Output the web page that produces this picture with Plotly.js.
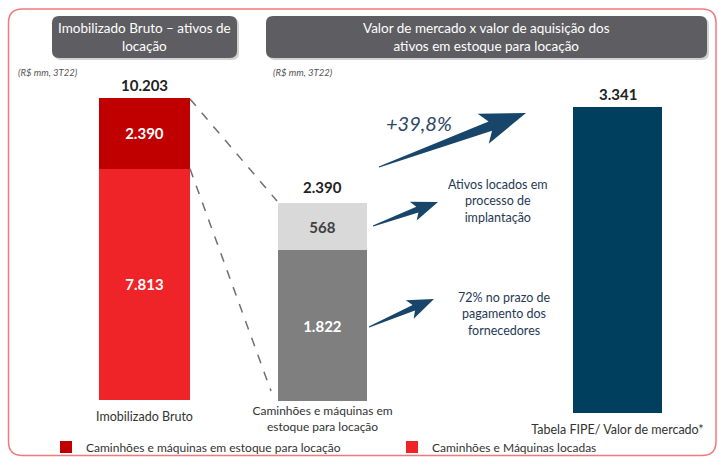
<!DOCTYPE html>
<html>
<head>
<meta charset="utf-8">
<script src="https://cdn.plot.ly/plotly-3.0.1.min.js"></script>
<style>
  html, body { margin: 0; padding: 0; background: white; }
  #plotDiv { width: 718px; height: 457px; }
</style>
</head>
<body>
<div id="plotDiv"></div>
<script>
// chart values
const leftCategory = ['Imobilizado Bruto'];
const locadas = [7813];           // Caminhões e Máquinas locadas
const estoque = [2390];           // Caminhões e máquinas em estoque para locação
const midCategory = ['Caminhões e máquinas em<br>estoque para locação'];
const prazoFornecedores = [1822];
const emImplantacao = [568];
const rightCategory = ['Tabela FIPE/ Valor de mercado*'];
const valorMercado = [3341];
const variacao = '+39,8%';
const notaImplantacao = 'Ativos locados em<br>processo de<br>implantação';
const notaPrazo = '72% no prazo de<br>pagamento dos<br>fornecedores';
const titleLeft = 'Imobilizado Bruto – ativos de<br>locação';
const titleRight = 'Valor de mercado x valor de aquisição dos<br>ativos em estoque para locação';
const unidade = '(R$ mm, 3T22)';

const W = 718, H = 457;
const px = x => x / W;
const py = y => 1 - y / H;
const FONT = 'Lato, "Open Sans", sans-serif';

function fmt(n) {
    return String(n).replace(/\B(?=(\d{3})+(?!\d))/g, '.');
}

// rounded rectangle, pixel coords -> paper path
function rr(x0, y0, x1, y1, r) {
    const X = px, Y = py;
    return 'M' + X(x0 + r) + ',' + Y(y0) +
        ' L' + X(x1 - r) + ',' + Y(y0) +
        ' Q' + X(x1) + ',' + Y(y0) + ' ' + X(x1) + ',' + Y(y0 + r) +
        ' L' + X(x1) + ',' + Y(y1 - r) +
        ' Q' + X(x1) + ',' + Y(y1) + ' ' + X(x1 - r) + ',' + Y(y1) +
        ' L' + X(x0 + r) + ',' + Y(y1) +
        ' Q' + X(x0) + ',' + Y(y1) + ' ' + X(x0) + ',' + Y(y1 - r) +
        ' L' + X(x0) + ',' + Y(y0 + r) +
        ' Q' + X(x0) + ',' + Y(y0) + ' ' + X(x0 + r) + ',' + Y(y0) + ' Z';
}

// tapered arrow, pixel coords -> paper path
function arrow(x0, y0, x1, y1, tailW, shaftW, headW, headLen) {
    const L = Math.hypot(x1 - x0, y1 - y0);
    const ux = (x1 - x0) / L, uy = (y1 - y0) / L;
    const nx = -uy, ny = ux;
    const bx = x1 - ux * headLen, by = y1 - uy * headLen;
    const back = headLen * 0.2;
    const pts = [
        [x0 + nx * tailW / 2, y0 + ny * tailW / 2],
        [bx + nx * shaftW / 2, by + ny * shaftW / 2],
        [bx - ux * back + nx * headW / 2, by - uy * back + ny * headW / 2],
        [x1, y1],
        [bx - ux * back - nx * headW / 2, by - uy * back - ny * headW / 2],
        [bx - nx * shaftW / 2, by - ny * shaftW / 2],
        [x0 - nx * tailW / 2, y0 - ny * tailW / 2]
    ];
    return pts.map((p, i) => (i ? 'L' : 'M') + px(p[0]) + ',' + py(p[1])).join(' ') + ' Z';
}

const leftX = [px(99), px(190)], leftY = [py(400), py(98)];
const midX = [px(278), px(367)], midY = [py(401), py(203)];
const rightX = [px(573), px(662)], rightY = [py(413), py(107)];

const leftTotal = locadas[0] + estoque[0];
const midTotal = prazoFornecedores[0] + emImplantacao[0];

const insideFont = { family: FONT, size: 15, color: 'white', weight: 700 };

const data = [
    { type: 'bar', name: 'Caminhões e Máquinas locadas', x: leftCategory, y: locadas,
      xaxis: 'x', yaxis: 'y', marker: { color: '#ee2428' }, width: 1, legend: 'legend2',
      texttemplate: '%{y:,.0f}', textposition: 'inside', insidetextanchor: 'middle',
      textfont: insideFont, hoverinfo: 'skip' },
    { type: 'bar', name: 'Caminhões e máquinas em estoque para locação', x: leftCategory, y: estoque,
      xaxis: 'x', yaxis: 'y', marker: { color: '#c00000' }, width: 1, legend: 'legend',
      texttemplate: '%{y:,.0f}', textposition: 'inside', insidetextanchor: 'middle',
      textfont: insideFont, hoverinfo: 'skip' },
    { type: 'bar', name: 'prazo', x: midCategory, y: prazoFornecedores, showlegend: false,
      xaxis: 'x2', yaxis: 'y2', marker: { color: '#7f7f7f' }, width: 1,
      texttemplate: '%{y:,.0f}', textposition: 'inside', insidetextanchor: 'middle',
      textfont: insideFont, hoverinfo: 'skip' },
    { type: 'bar', name: 'implantacao', x: midCategory, y: emImplantacao, showlegend: false,
      xaxis: 'x2', yaxis: 'y2', marker: { color: '#d9d9d9' }, width: 1,
      texttemplate: '%{y:,.0f}', textposition: 'inside', insidetextanchor: 'middle',
      textfont: { family: FONT, size: 15, color: '#404040', weight: 700 }, hoverinfo: 'skip' },
    { type: 'bar', name: 'fipe', x: rightCategory, y: valorMercado, showlegend: false,
      xaxis: 'x3', yaxis: 'y3', marker: { color: '#013f5f' }, width: 1, hoverinfo: 'skip' }
];

function xax(dom, anchor, standoff, size) {
    return { domain: dom, anchor: anchor, type: 'category', range: [-0.5, 0.5],
             showgrid: false, zeroline: false, showline: false, ticks: '',
             tickfont: { family: FONT, size: size, color: '#333' },
             ticklabelstandoff: standoff, fixedrange: true };
}
function yax(dom, anchor, top) {
    return { domain: dom, anchor: anchor, range: [0, top], visible: false, fixedrange: true };
}

function legendAt(x) {
    return { orientation: 'h', x: px(x), y: py(447), xanchor: 'left', yanchor: 'middle',
             font: { family: FONT, size: 12, color: '#333' }, bgcolor: 'rgba(0,0,0,0)',
             itemwidth: 30, tracegroupgap: 0 };
}

const totalFont = { family: FONT, size: 15, color: '#222', weight: 700 };
const noteFont = { family: FONT, size: 12.5, color: '#1f3a55' };

function note(x, y, text, font, extra) {
    return Object.assign({ xref: 'paper', yref: 'paper', x: px(x), y: py(y), xanchor: 'center',
                           yanchor: 'middle', text: text, showarrow: false, font: font, align: 'center' },
                         extra || {});
}

const layout = {
    width: W, height: H,
    margin: { l: 0, r: 0, t: 0, b: 0, autoexpand: false },
    paper_bgcolor: 'white', plot_bgcolor: 'rgba(0,0,0,0)',
    barmode: 'stack', bargap: 0,
    separators: ',.',
    font: { family: FONT, color: '#333' },
    xaxis: xax(leftX, 'y', 7, 12.5),
    yaxis: yax(leftY, 'x', leftTotal),
    xaxis2: xax(midX, 'y2', 1, 12),
    yaxis2: yax(midY, 'x2', midTotal),
    xaxis3: xax(rightX, 'y3', 7, 12.5),
    yaxis3: yax(rightY, 'x3', valorMercado[0]),
    showlegend: true,
    legend: legendAt(46),
    legend2: legendAt(392),
    shapes: [
        // outer frame
        { type: 'path', xref: 'paper', yref: 'paper', path: rr(8.5, 9, 716, 455.5, 14),
          line: { color: '#f07a7a', width: 1.5 }, fillcolor: 'rgba(0,0,0,0)', layer: 'below' },
        // title boxes (shadow + box)
        { type: 'path', xref: 'paper', yref: 'paper', path: rr(54, 18, 239, 60, 7),
          line: { width: 0 }, fillcolor: 'rgba(0,0,0,0.18)', layer: 'below' },
        { type: 'path', xref: 'paper', yref: 'paper', path: rr(52, 16, 237, 58, 7),
          line: { width: 0 }, fillcolor: '#5e5e62', layer: 'below' },
        { type: 'path', xref: 'paper', yref: 'paper', path: rr(268, 18, 709, 60, 7),
          line: { width: 0 }, fillcolor: 'rgba(0,0,0,0.18)', layer: 'below' },
        { type: 'path', xref: 'paper', yref: 'paper', path: rr(266, 16, 707, 58, 7),
          line: { width: 0 }, fillcolor: '#5e5e62', layer: 'below' },
        // dashed connectors
        { type: 'line', xref: 'paper', yref: 'paper',
          x0: leftX[1], y0: leftY[1] - 1 / H, x1: midX[0] - 1 / W, y1: midY[1] + 2 / H,
          line: { color: '#6f6f6f', width: 1.5, dash: 'dash' } },
        { type: 'line', xref: 'paper', yref: 'paper',
          x0: leftX[1], y0: leftY[0] + (leftY[1] - leftY[0]) * locadas[0] / leftTotal,
          x1: midX[0] - 7 / W, y1: midY[0] + 10 / H,
          line: { color: '#6f6f6f', width: 1.5, dash: 'dash' } },
        // arrows
        { type: 'path', xref: 'paper', yref: 'paper', path: arrow(379, 167, 526, 113, 1, 10, 32, 38),
          line: { width: 0 }, fillcolor: '#17466a' },
        { type: 'path', xref: 'paper', yref: 'paper', path: arrow(373, 226, 438, 202, 1, 6, 20, 22),
          line: { width: 0 }, fillcolor: '#17466a' },
        { type: 'path', xref: 'paper', yref: 'paper', path: arrow(369, 327, 434, 299, 1, 6, 20, 22),
          line: { width: 0 }, fillcolor: '#17466a' }
    ],
    annotations: [
        note(144.5, 37, titleLeft, { family: FONT, size: 13.5, color: 'white' }),
        note(486.5, 37, titleRight, { family: FONT, size: 13.5, color: 'white' }),
        note(16, 72, '<i>' + unidade + '</i>', { family: FONT, size: 9.5, color: '#555' }, { xanchor: 'left' }),
        note(271, 72, '<i>' + unidade + '</i>', { family: FONT, size: 9.5, color: '#555' }, { xanchor: 'left' }),
        { xref: 'x', yref: 'y', x: leftCategory[0], y: leftTotal, xanchor: 'center', yanchor: 'bottom', yshift: 2,
          text: fmt(leftTotal), showarrow: false, font: totalFont },
        { xref: 'x2', yref: 'y2', x: midCategory[0], y: midTotal, xanchor: 'center', yanchor: 'bottom', yshift: 5,
          text: fmt(midTotal), showarrow: false, font: totalFont },
        { xref: 'x3', yref: 'y3', x: rightCategory[0], y: valorMercado[0], xanchor: 'center', yanchor: 'bottom', yshift: 2,
          text: fmt(valorMercado[0]), showarrow: false, font: totalFont },
        note(419, 123, '<i>' + variacao + '</i>', { family: FONT, size: 20, color: '#2b4866' }),
        note(498, 201, notaImplantacao, noteFont),
        note(504, 314, notaPrazo, noteFont)
    ]
};

Plotly.newPlot('plotDiv', data, layout, { displayModeBar: false, staticPlot: true });
</script>
</body>
</html>
